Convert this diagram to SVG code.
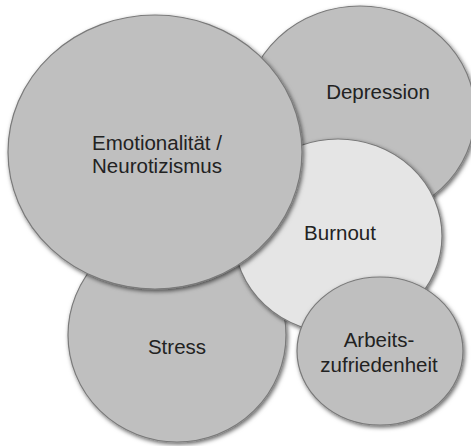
<svg xmlns="http://www.w3.org/2000/svg" width="471" height="446" viewBox="0 0 471 446">
  <defs>
    <filter id="shadow" x="-20%" y="-20%" width="140%" height="140%">
      <feDropShadow dx="1.5" dy="2" stdDeviation="2" flood-color="#000" flood-opacity="0.6"/>
    </filter>
    <style>
      .bubble { fill: #bfbfbf; stroke: #7a7a7a; stroke-width: 1.2; filter: url(#shadow); }
      .core { fill: #e5e5e5; stroke: #7a7a7a; stroke-width: 1.2; filter: url(#shadow); }
      .label { font-family: "Liberation Sans", Arial, sans-serif; font-size: 20.5px; fill: #222; text-anchor: middle; }
    </style>
  </defs>
  <rect width="471" height="446" fill="#ffffff"/>
  <g id="connectors"/>
  <g id="depression">
    <ellipse class="bubble" cx="360" cy="113" rx="115" ry="107"/>
    <text class="label" x="378" y="99">Depression</text>
  </g>
  <g id="stress">
    <ellipse class="bubble" cx="177" cy="335" rx="109" ry="107"/>
    <text class="label" x="177" y="354">Stress</text>
  </g>
  <g id="burnout">
    <ellipse class="core" cx="338" cy="236" rx="104" ry="97"/>
    <text class="label" x="340" y="240">Burnout</text>
  </g>
  <g id="emotionalitaet">
    <ellipse class="bubble" cx="155" cy="152" rx="147" ry="137"/>
    <text class="label"><tspan x="157" y="150">Emotionalität /</tspan><tspan x="157" y="173">Neurotizismus</tspan></text>
  </g>
  <g id="arbeitszufriedenheit">
    <ellipse class="bubble" cx="380" cy="351" rx="83" ry="74"/>
    <text class="label"><tspan x="379" y="347">Arbeits-</tspan><tspan x="379" y="372">zufriedenheit</tspan></text>
  </g>
</svg>
